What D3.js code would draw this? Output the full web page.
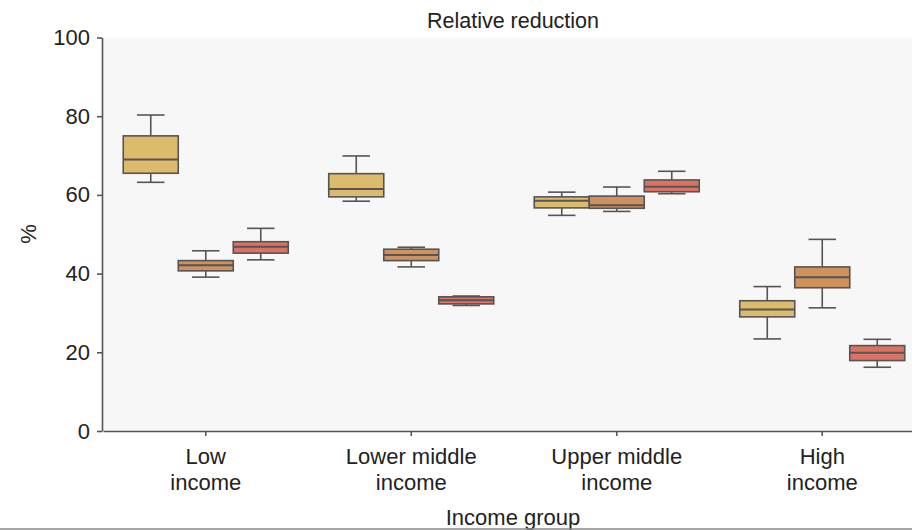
<!DOCTYPE html>
<html><head><meta charset="utf-8">
<script src="https://cdn.jsdelivr.net/npm/d3@7"></script>
<style>body{margin:0;background:#fff}svg{display:block}text{font-family:"Liberation Sans",Arial,sans-serif;fill:#222}</style>
</head><body><svg id="c" width="912" height="530"></svg>
<script>
const categories = ["Low income", "Lower middle income", "Upper middle income", "High income"];
const categoryLines = [["Low","income"],["Lower middle","income"],["Upper middle","income"],["High","income"]];
const series = ["A", "B", "C"];
const seriesColors = ["#dcbb6c", "#cf915e", "#dc7262"];
// [whiskerLow, Q1, median, Q3, whiskerHigh] per category, per series
const seriesA = [[63.2,65.5,69.0,75.0,80.3],[58.4,59.5,61.5,65.4,69.9],[54.8,56.7,58.5,59.5,60.7],[23.4,29.0,30.9,33.1,36.7]];
const seriesB = [[39.1,40.7,42.1,43.3,45.8],[41.7,43.3,44.7,46.2,46.7],[55.8,56.6,57.4,59.7,62.0],[31.3,36.4,39.1,41.7,48.7]];
const seriesC = [[43.5,45.2,46.8,48.1,51.5],[31.9,32.3,33.2,34.1,34.3],[60.3,60.8,62.1,63.8,66.0],[16.2,17.9,19.9,21.7,23.3]];
const yTicks = [0,20,40,60,80,100];

const svg = d3.select("#c");
const x = d3.scaleBand().domain(categories).range([103, 925]);
const y = d3.scaleLinear().domain([0,100]).range([431, 37.5]);
const sub = d3.scaleBand().domain(series).range([-82.5, 82.5]);

svg.append("rect").attr("x",102).attr("y",37.5).attr("width",810).attr("height",393.5).attr("fill","#f7f7f7");

const data = [seriesA, seriesB, seriesC];
categories.forEach((cat, ci) => {
  series.forEach((s, si) => {
    const [lo,q1,md,q3,hi] = data[si][ci];
    const cx = x(cat) + x.bandwidth()/2 + sub(s) + sub.bandwidth()/2;
    const w = sub.bandwidth();
    const g = svg.append("g").attr("stroke","#555").attr("stroke-width",1.6);
    g.append("line").attr("x1",cx).attr("x2",cx).attr("y1",y(hi)).attr("y2",y(q3));
    g.append("line").attr("x1",cx).attr("x2",cx).attr("y1",y(q1)).attr("y2",y(lo));
    g.append("line").attr("x1",cx-w/4).attr("x2",cx+w/4).attr("y1",y(hi)).attr("y2",y(hi));
    g.append("line").attr("x1",cx-w/4).attr("x2",cx+w/4).attr("y1",y(lo)).attr("y2",y(lo));
    g.append("rect").attr("x",cx-w/2).attr("width",w).attr("y",y(q3)).attr("height",y(q1)-y(q3)).attr("fill",seriesColors[si]);
    g.append("line").attr("x1",cx-w/2).attr("x2",cx+w/2).attr("y1",y(md)).attr("y2",y(md)).attr("stroke-width",2);
  });
});

const ya = svg.append("g").attr("transform","translate(102,0)").call(d3.axisLeft(y).tickValues(yTicks).tickSize(5).tickPadding(7).tickSizeOuter(0));
ya.selectAll("text").style("font-size","22px").style("fill","#222");
ya.selectAll("line,path").attr("stroke","#555").attr("stroke-width",1.6);

const xa = svg.append("g").attr("transform","translate(0,431)").call(d3.axisBottom(x).tickSize(5).tickSizeOuter(0).tickFormat(""));
xa.selectAll("line,path").attr("stroke","#555").attr("stroke-width",1.6);
xa.selectAll(".tick").each(function(d,i){
  const t = d3.select(this).append("text").attr("text-anchor","middle").style("font-size","22px").style("fill","#222");
  categoryLines[i].forEach((ln,k)=>t.append("tspan").attr("x",0).attr("y",33+k*26).text(ln));
});

svg.append("text").attr("x",513).attr("y",28).attr("text-anchor","middle").style("font-size","21.5px").text("Relative reduction");
svg.append("text").attr("x",513).attr("y",525).attr("text-anchor","middle").style("font-size","22px").text("Income group");
svg.append("text").attr("transform","translate(36,234) rotate(-90)").attr("text-anchor","middle").style("font-size","22px").text("%");
svg.append("line").attr("x1",0).attr("x2",912).attr("y1",529).attr("y2",529).attr("stroke","#888").attr("stroke-width",1.5);
</script></body></html>
